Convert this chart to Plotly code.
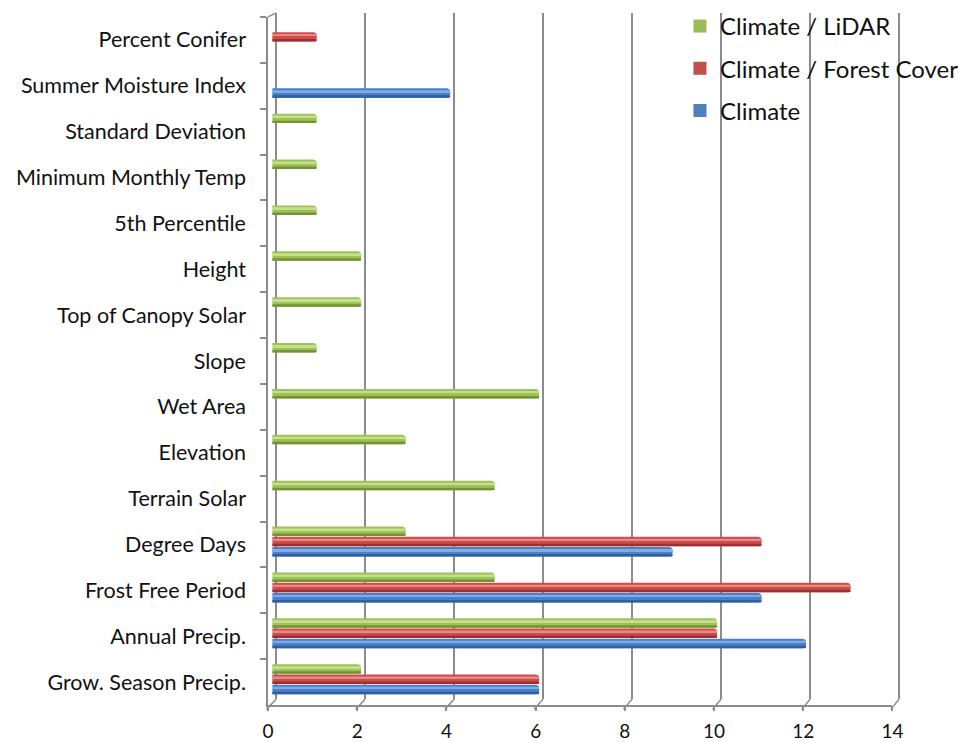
import plotly.graph_objects as go

# ---- data -------------------------------------------------------------
categories = [
    "Grow. Season Precip.", "Annual Precip.", "Frost Free Period", "Degree Days",
    "Terrain Solar", "Elevation", "Wet Area", "Slope", "Top of Canopy Solar",
    "Height", "5th Percentile", "Minimum Monthly Temp", "Standard Deviation",
    "Summer Moisture Index", "Percent Conifer",
]
climate = [6, 12, 11, 9, None, None, None, None, None, None, None, None, None, 4, None]
forest_cover = [6, 10, 13, 11, None, None, None, None, None, None, None, None, None, None, 1]
lidar = [2, 10, 5, 3, 5, 3, 6, 1, 2, 2, 1, 1, 1, None, None]

series_names = ["Climate", "Climate / Forest Cover", "Climate / LiDAR"]
series_values = [climate, forest_cover, lidar]
x_ticks = [0, 2, 4, 6, 8, 10, 12, 14]

# ---- styling ----------------------------------------------------------
W, H = 969, 742
FONT = "Lato"
GRID = "#8c8c8c"
base_col = ["#4a7fcb", "#cd4c4a", "#9cc353"]
dark_col = ["#2f5f9e", "#9c3230", "#749434"]
light_col = ["#86abe0", "#e58a88", "#c4de92"]
legend_col = ["#4f81bd", "#c0504d", "#9bbb59"]

# pseudo-3D planes (pixel geometry)
FRONT_L, FRONT_R, FRONT_T, FRONT_B = 266.7, 902.3, 17.0, 708.0
BACK_L, BACK_R, BACK_T, BACK_B = 275.0, 909.0, 13.0, 702.0
MID_L, MID_R = 271.0, 905.0
CAT_PX = (FRONT_B - FRONT_T) / len(categories)
X_MAX = 14
PAD = 0.3  # extra range on the back wall so the edge grid lines are kept
BACK_SCALE = (BACK_R - BACK_L) / X_MAX


def fx(p):
    return p / W


def fy(p):
    return 1 - p / H


def u(px):
    """pixels -> category units"""
    return px / CAT_PX


fig = go.Figure()

# empty traces so every subplot exists
fig.add_trace(go.Scatter(x=[None], y=[None], xaxis="x2", yaxis="y2",
                         showlegend=False, hoverinfo="skip"))
fig.add_trace(go.Scatter(x=[None], y=[None], xaxis="x", yaxis="y",
                         showlegend=False, hoverinfo="skip"))

# bar centres relative to the category centre (upwards positive)
centres = [u(-7.3), u(3.0), u(13.3)]
BAR = 9.5

for i, (name, vals) in enumerate(zip(series_names, series_values)):
    c = centres[i]
    # body of the cylinder
    fig.add_trace(go.Bar(
        y=categories, x=vals, orientation="h", name=name, showlegend=False,
        xaxis="x3", yaxis="y",
        offset=c - u(BAR / 2), width=u(BAR),
        marker=dict(color=base_col[i], line=dict(width=0), cornerradius=4),
    ))
    # shaded underside
    fig.add_trace(go.Bar(
        y=categories, x=vals, orientation="h", showlegend=False,
        xaxis="x3", yaxis="y", hoverinfo="skip",
        offset=c - u(BAR / 2), width=u(2.5),
        marker=dict(color=dark_col[i], line=dict(width=0), cornerradius=1),
    ))
    # highlight stripe
    fig.add_trace(go.Bar(
        y=categories, x=vals, orientation="h", showlegend=False,
        xaxis="x3", yaxis="y", hoverinfo="skip",
        offset=c + u(0.8), width=u(2.0),
        marker=dict(color=light_col[i], line=dict(width=0), cornerradius=1),
    ))

# legend entries (square keys), top to bottom
for i in [2, 1, 0]:
    fig.add_trace(go.Scatter(
        x=[None], y=[None], xaxis="x2", yaxis="y2", mode="markers",
        name=series_names[i], legendgroup=series_names[i],
        marker=dict(symbol="square", size=13, color=legend_col[i]),
    ))

# connectors between back wall and front axis
shapes = []
for v in x_ticks:
    xb = BACK_L + (BACK_R - BACK_L) * v / X_MAX
    xf = FRONT_L + (FRONT_R - FRONT_L) * v / X_MAX
    shapes.append(dict(type="line", xref="paper", yref="paper",
                       x0=fx(xb), y0=fy(BACK_B), x1=fx(xf - 1.5), y1=fy(FRONT_B + 4),
                       line=dict(color=GRID, width=1.5)))
shapes.append(dict(type="line", xref="paper", yref="paper",
                   x0=fx(FRONT_L), y0=fy(FRONT_T), x1=fx(BACK_L), y1=fy(BACK_T),
                   line=dict(color=GRID, width=1.5)))

fig.update_layout(
    width=W, height=H,
    margin=dict(l=0, r=0, t=0, b=0),
    paper_bgcolor="white", plot_bgcolor="rgba(0,0,0,0)",
    barmode="overlay",
    font=dict(family=FONT, color="#111111"),
    showlegend=True,
    legend=dict(
        x=fx(686), y=fy(4), xanchor="left", yanchor="top",
        font=dict(family=FONT, size=24, color="#111111"),
        bgcolor="rgba(0,0,0,0)", traceorder="grouped", tracegroupgap=8,
        itemclick=False,
    ),
    shapes=shapes,
    # front axes (labels, ticks)
    xaxis=dict(
        domain=[fx(FRONT_L), fx(FRONT_R)], range=[0, X_MAX],
        tickvals=x_ticks, ticktext=[str(t) for t in x_ticks],
        showgrid=False, zeroline=False,
        showline=True, linecolor=GRID, linewidth=1.5,
        ticks="outside", ticklen=4, tickcolor=GRID, tickwidth=1.5,
        tickfont=dict(family=FONT, size=19, color="#111111"),
        ticklabelstandoff=4,
        anchor="y", fixedrange=True,
    ),
    yaxis=dict(
        domain=[fy(FRONT_B), fy(FRONT_T)], range=[-0.5, len(categories) - 0.5],
        type="category", categoryorder="array", categoryarray=categories,
        tickson="boundaries", ticks="outside", ticklen=6, tickcolor=GRID, tickwidth=1.5,
        showline=True, linecolor=GRID, linewidth=1.5, showgrid=False,
        tickfont=dict(family=FONT, size=21.5, color="#111111"),
        ticklabelstandoff=16,
        anchor="x", fixedrange=True,
    ),
    # back wall grid
    xaxis2=dict(
        domain=[fx(BACK_L - PAD * BACK_SCALE), fx(BACK_R + PAD * BACK_SCALE)],
        range=[-PAD, X_MAX + PAD],
        tickvals=x_ticks, showticklabels=False, ticks="",
        showgrid=True, gridcolor=GRID, gridwidth=2,
        zeroline=False, showline=False, anchor="y2", fixedrange=True,
    ),
    yaxis2=dict(
        domain=[fy(BACK_B), fy(BACK_T)], range=[0, 1],
        showgrid=False, showticklabels=False, ticks="", zeroline=False,
        showline=False, anchor="x2", fixedrange=True,
    ),
    # bar plane
    xaxis3=dict(
        domain=[fx(MID_L), fx(MID_R)], range=[0, X_MAX],
        visible=False, anchor="y", fixedrange=True,
    ),
)

fig.write_html("out.html")
